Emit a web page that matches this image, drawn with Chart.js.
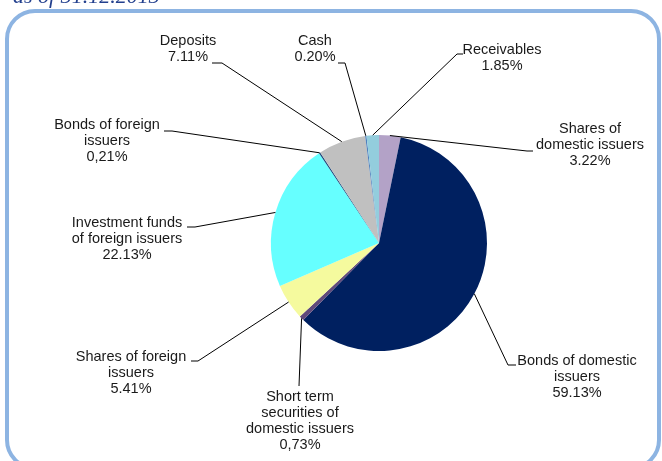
<!DOCTYPE html>
<html>
<head>
<meta charset="utf-8">
<script src="https://cdn.jsdelivr.net/npm/chart.js@4"></script>
<style>
  html, body { margin: 0; padding: 0; background: #fff; }
  #wrap { position: relative; width: 662px; height: 461px; overflow: hidden; }
  #frame {
    position: absolute; left: 5px; top: 9px; width: 648px; height: 453px;
    border: 4px solid #8db4e2; border-radius: 30px; box-sizing: content-box;
  }
  canvas { position: absolute; left: 0; top: 0; }
</style>
</head>
<body>
<div id="wrap">
  <div id="frame"></div>
  <canvas id="pie" width="662" height="461"></canvas>
</div>
<script>
// Structure of the portfolio, as of 31.12.2013 (clockwise from 12 o'clock)
const categories = [
  ['Shares of', 'domestic issuers'],
  ['Bonds of domestic', 'issuers'],
  ['Short term', 'securities of', 'domestic issuers'],
  ['Shares of foreign', 'issuers'],
  ['Investment funds', 'of foreign issuers'],
  ['Bonds of foreign', 'issuers'],
  ['Deposits'],
  ['Cash'],
  ['Receivables']
];
const values = [3.22, 59.13, 0.73, 5.41, 22.13, 0.21, 7.11, 0.20, 1.85];
const percentLabels = ['3.22%', '59.13%', '0,73%', '5.41%', '22.13%', '0,21%', '7.11%', '0.20%', '1.85%'];

// styles
const colors = ['#b3a2c7', '#002060', '#604a7b', '#f5fa9e', '#66ffff', '#1f497d', '#c0c0c0', '#4f81bd', '#93cddd'];

// label layout: text centre x, first line y, leader elbow x/y, hook end x
const labelLayout = [
  { x: 590, y: 129, ex: 527, ey: 151, hx: 533 },
  { x: 577, y: 361, ex: 508, ey: 365, hx: 516 },
  { x: 300, y: 397, ex: 299, ey: 386, hx: 299 },
  { x: 131, y: 357, ex: 198, ey: 361, hx: 191 },
  { x: 127, y: 223, ex: 195, ey: 227, hx: 187 },
  { x: 107, y: 125, ex: 172, ey: 131, hx: 164 },
  { x: 188, y: 41,  ex: 222, ey: 63,  hx: 212 },
  { x: 315, y: 41,  ex: 345, ey: 63,  hx: 338 },
  { x: 502, y: 50,  ex: 457, ey: 54,  hx: 463 }
];

const pieLabels = {
  id: 'pieLabels',
  afterDraw(chart) {
    const ctx = chart.ctx;
    const arcs = chart.getDatasetMeta(0).data;
    ctx.save();

    // title, only its lower part shows above the frame
    ctx.font = 'italic 22px "Liberation Serif", serif';
    ctx.fillStyle = '#23408e';
    ctx.textAlign = 'left';
    ctx.textBaseline = 'alphabetic';
    ctx.fillText('as of 31.12.2013', 13, 3);

    ctx.strokeStyle = '#000';
    ctx.lineWidth = 1;
    ctx.font = '14.5px "Liberation Sans", Arial, sans-serif';
    ctx.fillStyle = '#1a1a1a';
    ctx.textAlign = 'center';
    ctx.textBaseline = 'middle';

    arcs.forEach((arc, i) => {
      const p = arc.getProps(['x', 'y', 'startAngle', 'endAngle', 'outerRadius'], true);
      const mid = (p.startAngle + p.endAngle) / 2;
      const ax = p.x + Math.cos(mid) * p.outerRadius;
      const ay = p.y + Math.sin(mid) * p.outerRadius;
      const l = labelLayout[i];

      ctx.beginPath();
      ctx.moveTo(ax, ay);
      ctx.lineTo(l.ex, l.ey);
      ctx.lineTo(l.hx, l.ey);
      ctx.stroke();

      const lines = categories[i].concat([percentLabels[i]]);
      lines.forEach((t, k) => {
        ctx.fillText(t, l.x, l.y + k * 16);
      });
    });
    ctx.restore();
  }
};

new Chart(document.getElementById('pie').getContext('2d'), {
  type: 'pie',
  data: {
    labels: categories.map(c => c.join(' ')),
    datasets: [{
      data: values,
      backgroundColor: colors,
      borderWidth: 0
    }]
  },
  options: {
    responsive: false,
    animation: false,
    layout: { padding: { left: 271, right: 175, top: 135, bottom: 110 } },
    plugins: {
      legend: { display: false },
      tooltip: { enabled: false }
    }
  },
  plugins: [pieLabels]
});
</script>
</body>
</html>
